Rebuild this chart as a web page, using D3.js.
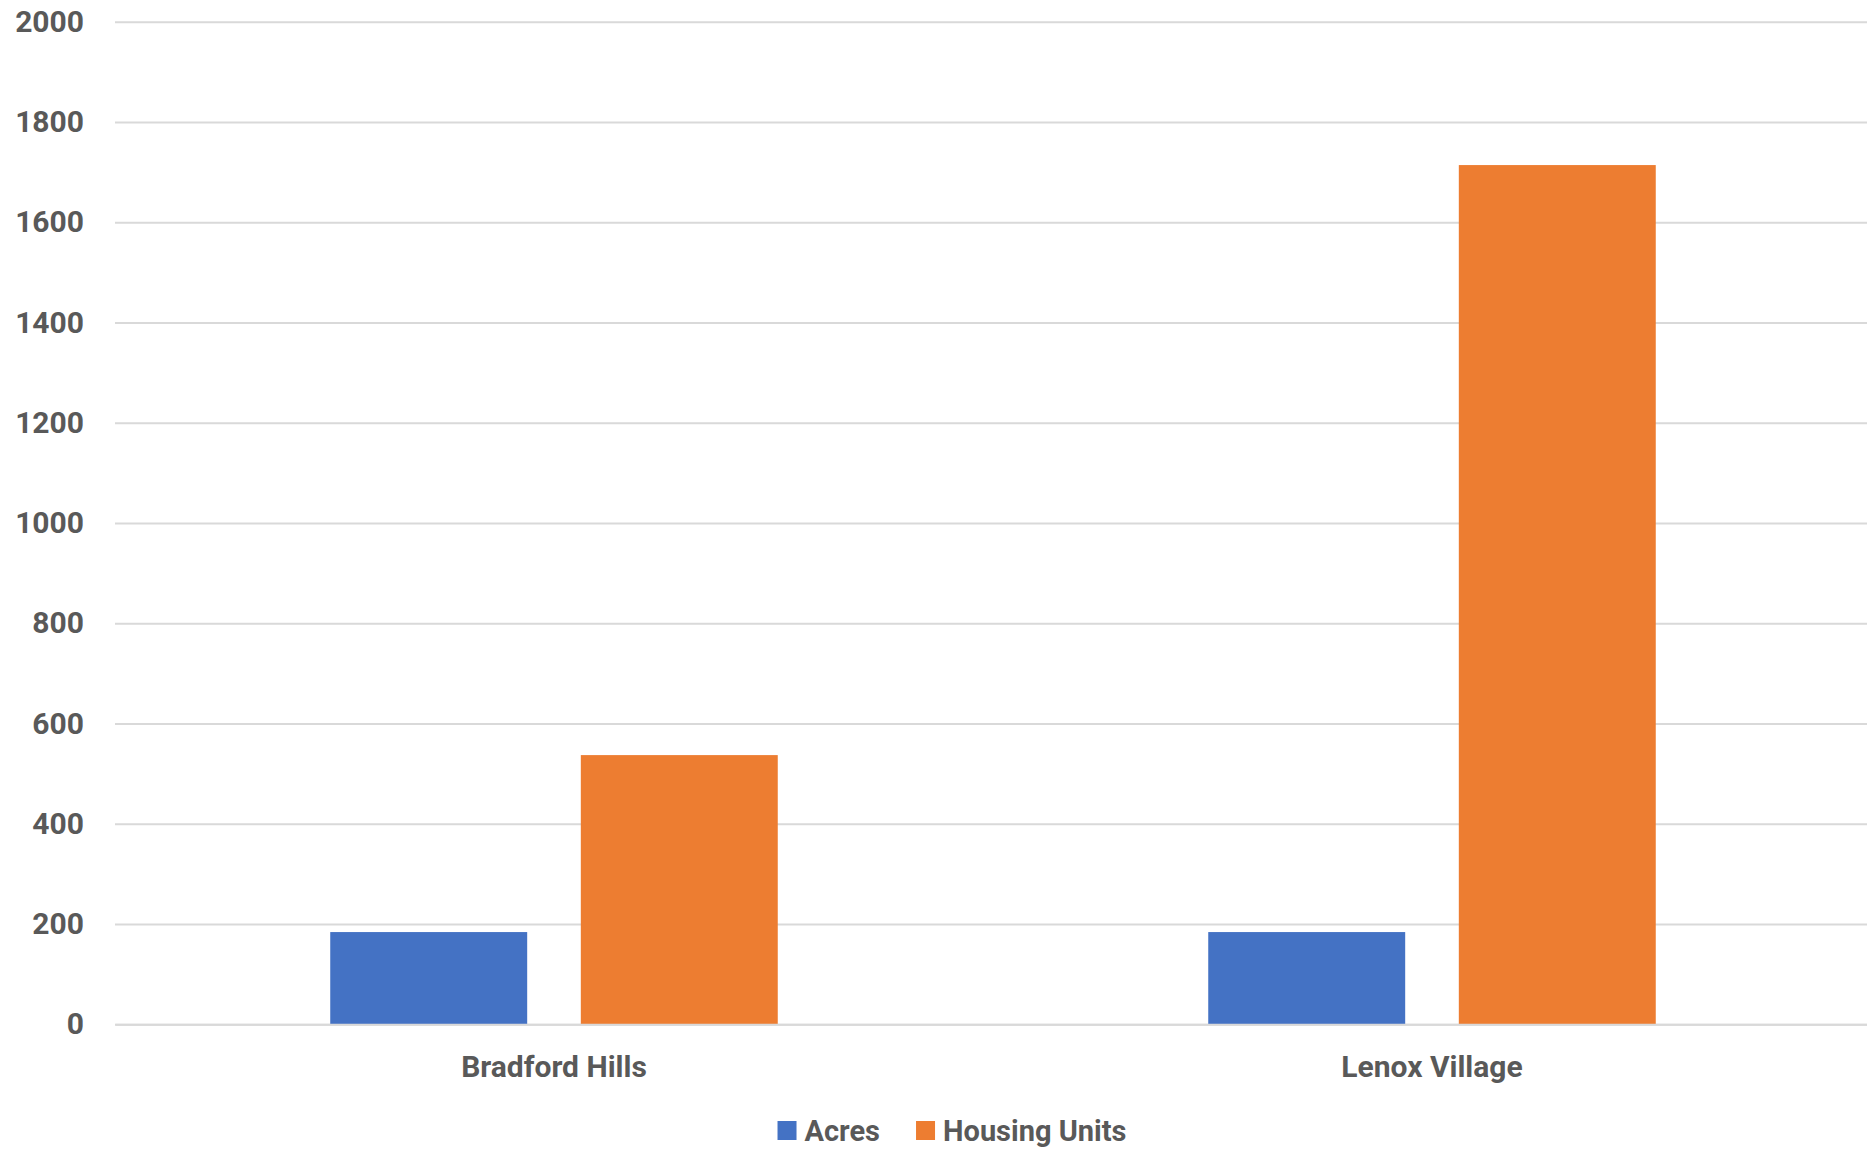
<!DOCTYPE html>
<html>
<head>
<meta charset="utf-8">
<script src="https://cdn.jsdelivr.net/npm/d3@7"></script>
<style>
  html, body { margin: 0; padding: 0; background: #ffffff; }
  svg { display: block; }
  text { font-family: Roboto, "Open Sans", sans-serif; font-weight: 700; fill: #595959; }
</style>
</head>
<body>
<svg id="chart" width="1867" height="1149"></svg>
<script>
const categories = ["Bradford Hills", "Lenox Village"];
const seriesNames = ["Acres", "Housing Units"];
const acres = [184, 184];
const housingUnits = [537, 1714];
const yTicks = [0, 200, 400, 600, 800, 1000, 1200, 1400, 1600, 1800, 2000];
const colors = ["#4472C4", "#ED7D31"];

const seriesValues = [acres, housingUnits];
const svg = d3.select("#chart");

const y = d3.scaleLinear().domain([0, 2000]).range([1024.3, 21.7]);
const x0 = d3.scaleBand().domain(categories).range([115, 1871]).paddingInner(0).paddingOuter(0);
const bw = x0.bandwidth();
const groupW = bw * 0.5097;
const x1 = d3.scaleBand().domain(seriesNames)
  .range([(bw - groupW) / 2, (bw + groupW) / 2])
  .paddingInner(0.214).paddingOuter(0);

// gridlines
const yAxis = d3.axisLeft(y).tickValues(yTicks).tickSize(-(1867 - 115)).tickPadding(31).tickFormat(d3.format("d"));
const gy = svg.append("g").attr("transform", "translate(115,0)").call(yAxis);
gy.select(".domain").remove();
gy.selectAll(".tick line").attr("stroke", "#d9d9d9").attr("stroke-width", 2);
gy.selectAll(".tick text").attr("font-size", 30).attr("fill", "#595959")
  .style("font-family", "Roboto, 'Open Sans', sans-serif").style("font-weight", 700);

// bars
const groups = svg.append("g").selectAll("g")
  .data(categories).join("g")
  .attr("transform", d => `translate(${x0(d)},0)`);

groups.selectAll("rect")
  .data((c, ci) => seriesNames.map((s, si) => ({ s, si, v: seriesValues[si][ci] })))
  .join("rect")
  .attr("x", d => x1(d.s))
  .attr("width", x1.bandwidth())
  .attr("y", d => y(d.v))
  .attr("height", d => y(0) - y(d.v))
  .attr("fill", d => colors[d.si]);

// category axis
const xAxis = d3.axisBottom(x0).tickSize(0).tickPadding(31);
const gx = svg.append("g").attr("transform", `translate(0,${y(0)})`).call(xAxis);
gx.select(".domain").attr("stroke", "#d9d9d9").attr("stroke-width", 2);
gx.selectAll(".tick text").attr("font-size", 30).attr("fill", "#595959")
  .style("font-family", "Roboto, 'Open Sans', sans-serif").style("font-weight", 700);

// legend
const legend = svg.append("g");
const items = legend.selectAll("g").data(seriesNames).join("g");
items.append("rect").attr("width", 19).attr("height", 19).attr("y", -10)
  .attr("fill", (d, i) => colors[i]);
items.append("text").attr("x", 27).attr("dy", "0.35em").attr("font-size", 29).text(d => d);
let cx = 0;
const widths = [];
items.each(function() {
  const w = this.getBBox().width;
  widths.push(w);
});
items.attr("transform", (d, i) => {
  const t = `translate(${cx},0)`;
  cx += widths[i] + 36;
  return t;
});
const totalW = cx - 36;
legend.attr("transform", `translate(${(115 + 1871) / 2 - totalW / 2 - 41},1131)`);
</script>
</body>
</html>
